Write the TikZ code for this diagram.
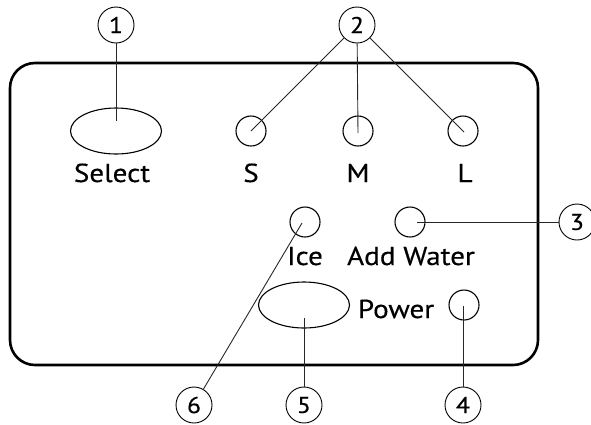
\documentclass[tikz,border=0pt]{standalone}
\usepackage{fontspec}
\setmainfont{PT Sans}[FakeStretch=1.12,FakeBold=0.4]
\usetikzlibrary{shapes.geometric}
\begin{document}
\begin{tikzpicture}[x=1pt,y=-1pt,
  callout/.style={draw=black,line width=0.9pt,circle,minimum size=36pt,inner sep=0pt,font=\fontsize{23}{23}\selectfont},
  smallbtn/.style={draw=black,line width=1.1pt,circle,minimum size=30pt,inner sep=0pt},
  bigbtn/.style={draw=black,line width=1.1pt,ellipse,minimum width=91pt,minimum height=46pt,inner sep=0pt},
  lbl/.style={anchor=base,inner sep=0pt,font=\fontsize{26}{26}\selectfont},
  leader/.style={draw=black!85,line width=0.9pt}]
\useasboundingbox (0,0) rectangle (591,424);
% panel
\draw[line width=2.6pt,rounded corners=25pt] (10,63) rectangle (538,365);
% buttons
\node[bigbtn] (sel) at (116,131) {};
\node[smallbtn] (bS) at (251,131) {};
\node[smallbtn] (bM) at (358,131) {};
\node[smallbtn] (bL) at (463,131) {};
\node[smallbtn] (bIce) at (305,222) {};
\node[smallbtn] (bAdd) at (410,222) {};
\node[bigbtn] (bPow) at (304,305) {};
\node[smallbtn] (bPc) at (464,305) {};
% labels
\node[lbl] (tSel) at (112,182) {Select};
\node[lbl] (tS) at (251,182) {S};
\node[lbl] (tM) at (358,182) {M};
\node[lbl] (tL) at (465,182) {L};
\node[lbl] (tIce) at (305,265) {Ice};
\node[lbl] (tAdd) at (411,265) {Add Water};
\node[lbl] (tPow) at (396,318) {Power};
% callouts
\node[callout] (c1) at (116,25) {1};
\node[callout] (c2) at (357,25) {2};
\node[callout] (c3) at (577,222) {3};
\node[callout] (c4) at (463,405) {4};
\node[callout] (c5) at (304,405) {5};
\node[callout] (c6) at (194,405) {6};
% leader end points
\coordinate (e1) at (116,121);
\coordinate (eS) at (251,131);
\coordinate (eM) at (358,133);
\coordinate (eL) at (464,132);
\coordinate (e3) at (417,222);
\coordinate (e4) at (463,306);
\coordinate (e5) at (304,318);
\coordinate (e6) at (302,223);
% leaders
\draw[leader] (c1) -- (e1);
\draw[leader] (c2) -- (eS);
\draw[leader] (c2) -- (eM);
\draw[leader] (c2) -- (eL);
\draw[leader] (e3) -- (c3);
\draw[leader] (e4) -- (c4);
\draw[leader] (e5) -- (c5);
\draw[leader] (e6) -- (c6);
\end{tikzpicture}
\end{document}
